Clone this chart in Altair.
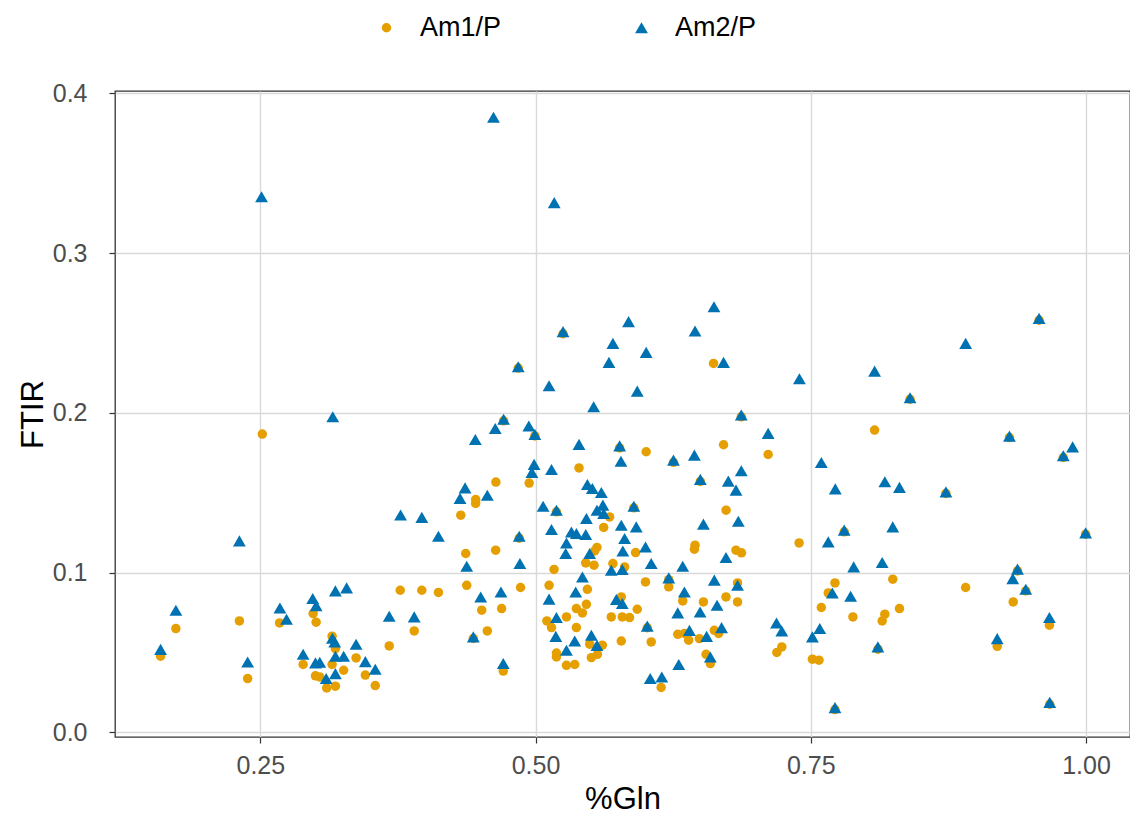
import altair as alt
import pandas as pd

am1_x = [0.2518, 0.525, 0.4843, 0.471, 0.4994, 0.5764, 0.5395, 0.464, 0.4942, 0.4456,
         0.6617, 0.6869, 0.6253, 0.6497, 0.6005, 0.6708, 0.7113, 0.9574, 0.8402, 0.9305,
         0.9794, 0.8728, 0.808, 0.9997, 0.9378, 0.9453, 0.811, 0.9671, 0.8245, 0.8907,
         0.9339, 0.8306, 0.7883, 0.8173, 0.8149, 0.9668, 0.9194, 0.7804, 0.772, 0.7394,
         0.6821, 0.6871, 0.772, 0.7659, 0.6835, 0.6835, 0.7596, 0.7237, 0.7192, 0.7515,
         0.7575, 0.5893, 0.621, 0.6015, 0.6731, 0.6449, 0.6443, 0.5909, 0.5809, 0.5999,
         0.621, 0.5779, 0.6337, 0.6525, 0.673, 0.5924, 0.5788, 0.5854, 0.6292, 0.6352,
         0.6391, 0.6488, 0.6624, 0.6663, 0.5779, 0.6051, 0.6549, 0.6588, 0.6141, 0.4852,
         0.519, 0.5673, 0.5619, 0.5558, 0.5537, 0.5456, 0.5531, 0.5703, 0.5168, 0.4864,
         0.5123, 0.5471, 0.5371, 0.5462, 0.5426, 0.5688, 0.5103, 0.5281, 0.5145, 0.5371,
         0.5492, 0.5607, 0.519, 0.519, 0.5562, 0.5507, 0.5281, 0.5356, 0.4435, 0.4707,
         0.4456, 0.4321, 0.4638, 0.4366, 0.3967, 0.4118, 0.4375, 0.4511, 0.4692, 0.3898,
         0.4562, 0.231, 0.1733, 0.1594, 0.2385, 0.2675, 0.298, 0.3007, 0.3771, 0.3671,
         0.3152, 0.3182, 0.337, 0.2889, 0.3152, 0.3257, 0.3001, 0.304, 0.3454, 0.3544,
         0.3103, 0.3182]
am1_y = [0.1867, 0.2495, 0.228, 0.195, 0.1855, 0.178, 0.1655, 0.1566, 0.156, 0.1457,
         0.2309, 0.1975, 0.169, 0.157, 0.1756, 0.18, 0.1739, 0.258, 0.2085, 0.1845,
         0.172, 0.1495, 0.1892, 0.124, 0.101, 0.0885, 0.052, 0.0175, 0.0958, 0.0906,
         0.0816, 0.0774, 0.0722, 0.0739, 0.0697, 0.067, 0.0538, 0.1255, 0.0142, 0.1185,
         0.114, 0.1123, 0.0935, 0.0872, 0.0935, 0.0816, 0.0781, 0.0534, 0.0499, 0.0457,
         0.0451, 0.1405, 0.0955, 0.0654, 0.139, 0.1171, 0.1146, 0.1125, 0.1035, 0.0941,
         0.091, 0.0847, 0.0822, 0.0816, 0.0847, 0.077, 0.0722, 0.0718, 0.0613, 0.0618,
         0.0576, 0.0586, 0.0638, 0.0618, 0.0571, 0.0565, 0.0488, 0.043, 0.028, 0.1215,
         0.138, 0.1348, 0.1282, 0.1157, 0.1135, 0.106, 0.1046, 0.1056, 0.1019, 0.0906,
         0.092, 0.0895, 0.0774, 0.0801, 0.0747, 0.0722, 0.0697, 0.0722, 0.0655, 0.0655,
         0.0551, 0.0545, 0.0496, 0.0471, 0.0488, 0.0467, 0.0419, 0.0424, 0.0587, 0.0383,
         0.1432, 0.1359, 0.114, 0.1119, 0.0889, 0.0875, 0.092, 0.0764, 0.0774, 0.0634,
         0.0634, 0.0697, 0.0649, 0.0476, 0.0336, 0.0684, 0.0743, 0.0689, 0.0889, 0.054,
         0.0601, 0.0524, 0.0465, 0.0424, 0.0424, 0.0388, 0.0353, 0.0346, 0.0358, 0.0292,
         0.0277, 0.0288]

am2_x = [0.4618, 0.2511, 0.517, 0.3158, 0.525, 0.5845, 0.5703, 0.5667, 0.4843, 0.5123,
         0.5528, 0.471, 0.4634, 0.4939, 0.4994, 0.4453, 0.5395, 0.5764, 0.5776, 0.4987,
         0.4967, 0.5145, 0.436, 0.4562, 0.5471, 0.5516, 0.5598, 0.4314, 0.6621, 0.6449,
         0.6005, 0.6708, 0.7397, 0.5924, 0.6869, 0.7113, 0.6253, 0.6443, 0.7596, 0.6497,
         0.6869, 0.6751, 0.6821, 0.7723, 0.9574, 0.8907, 0.808, 0.8402, 0.9305, 0.9879,
         0.9794, 0.8173, 0.8306, 0.8728, 0.8245, 0.9997, 0.789, 0.8149, 0.9378, 0.9335,
         0.9453, 0.7862, 0.9668, 0.9194, 0.811, 0.9671, 0.6842, 0.7804, 0.7659, 0.6835,
         0.7696, 0.7189, 0.7237, 0.7582, 0.7515, 0.772, 0.5893, 0.5779, 0.5915, 0.5809,
         0.5793, 0.5999, 0.6051, 0.5788, 0.6525, 0.6337, 0.673, 0.621, 0.6624, 0.6352,
         0.5788, 0.6649, 0.6292, 0.6495, 0.6015, 0.6398, 0.669, 0.6554, 0.6588, 0.6301,
         0.6042, 0.6147, 0.5069, 0.519, 0.4852, 0.5145, 0.5462, 0.5558, 0.5612, 0.5619,
         0.5326, 0.5371, 0.5456, 0.5281, 0.5274, 0.5492, 0.4858, 0.5688, 0.5426, 0.5365,
         0.5123, 0.5734, 0.519, 0.5184, 0.5356, 0.5507, 0.5558, 0.5281, 0.3967, 0.4118,
         0.4375, 0.4502, 0.4686, 0.3898, 0.4435, 0.4707, 0.3774, 0.231, 0.1733, 0.1594,
         0.2385, 0.2678, 0.2738, 0.2976, 0.3007, 0.3182, 0.3284, 0.3671, 0.3155, 0.3176,
         0.337, 0.2889, 0.3182, 0.3257, 0.3001, 0.304, 0.3454, 0.3544, 0.3182, 0.3098]
am2_y = [0.3851, 0.3353, 0.3316, 0.1975, 0.2508, 0.2571, 0.2435, 0.2316, 0.2288, 0.2169,
         0.2038, 0.196, 0.1902, 0.1917, 0.1865, 0.1833, 0.1802, 0.1793, 0.1697, 0.1677,
         0.1627, 0.1645, 0.153, 0.1484, 0.1551, 0.1526, 0.1501, 0.1464, 0.2664, 0.2512,
         0.2378, 0.2316, 0.2213, 0.2136, 0.1986, 0.1871, 0.1704, 0.1735, 0.1689, 0.1583,
         0.1637, 0.1572, 0.1516, 0.1524, 0.2591, 0.2435, 0.2261, 0.2094, 0.1854, 0.1787,
         0.1731, 0.1568, 0.1533, 0.1505, 0.1286, 0.1248, 0.1035, 0.1063, 0.1021, 0.0962,
         0.0895, 0.0851, 0.0718, 0.0586, 0.0534, 0.0187, 0.1321, 0.1265, 0.1192, 0.092,
         0.0872, 0.0684, 0.0634, 0.0649, 0.0597, 0.0154, 0.1415, 0.1296, 0.1286, 0.1213,
         0.1135, 0.116, 0.1056, 0.1019, 0.1303, 0.1039, 0.1094, 0.0966, 0.0952, 0.0878,
         0.0806, 0.0795, 0.0747, 0.0753, 0.0664, 0.0638, 0.0655, 0.06, 0.0471, 0.0424,
         0.0336, 0.0346, 0.1415, 0.139, 0.1227, 0.1269, 0.1338, 0.139, 0.1422, 0.137,
         0.1254, 0.1244, 0.1238, 0.1185, 0.1119, 0.1119, 0.1056, 0.1014, 0.0972, 0.0878,
         0.0833, 0.0831, 0.0718, 0.06, 0.0571, 0.0607, 0.0544, 0.0513, 0.1345, 0.1227,
         0.1039, 0.0847, 0.0878, 0.0722, 0.0597, 0.043, 0.136, 0.1198, 0.0764, 0.0519,
         0.044, 0.0778, 0.0707, 0.0837, 0.0793, 0.0885, 0.0904, 0.0726, 0.0588, 0.0565,
         0.0551, 0.0488, 0.0476, 0.0476, 0.0434, 0.0438, 0.0442, 0.0394, 0.0367, 0.0336]

series = ["Am1/P", "Am2/P"]
colors = ["#E69F00", "#0072B2"]
shapes = ["circle", "triangle-up"]

df = pd.concat([
    pd.DataFrame({"gln": am1_x, "ftir": am1_y, "series": series[0]}),
    pd.DataFrame({"gln": am2_x, "ftir": am2_y, "series": series[1]}),
], ignore_index=True)

font = "Liberation Sans"

chart = alt.Chart(df).mark_point(filled=True, opacity=1).encode(
    x=alt.X("gln:Q", title="%Gln",
            scale=alt.Scale(domain=[0.118, 1.04], nice=False, zero=False),
            axis=alt.Axis(values=[0.25, 0.5, 0.75, 1.0], format=".2f")),
    y=alt.Y("ftir:Q", title="FTIR",
            scale=alt.Scale(domain=[-0.003, 0.4015], nice=False, zero=False),
            axis=alt.Axis(values=[0.0, 0.1, 0.2, 0.3, 0.4], format=".1f")),
    color=alt.Color("series:N", scale=alt.Scale(domain=series, range=colors),
                    legend=alt.Legend(title=None, orient="none", direction="horizontal",
                                      legendX=258, legendY=-77, labelFontSize=27,
                                      labelFont=font, labelColor="#000000",
                                      symbolSize=85, columnPadding=126,
                                      labelOffset=20)),
    shape=alt.Shape("series:N", scale=alt.Scale(domain=series, range=shapes)),
    size=alt.Size("series:N", scale=alt.Scale(domain=series, range=[90, 165]), legend=None),
    order=alt.Order("order:Q"),
).transform_calculate(
    order="datum.series == 'Am1/P' ? 0 : 1"
).properties(
    width=1015, height=646,
    autosize=alt.AutoSizeParams(type="none"),
    padding={"left": 115, "top": 91, "right": 0, "bottom": 85},
    background="white",
).configure_view(
    stroke="#333333", strokeWidth=1.3
).configure_axis(
    domain=False,
    grid=True, gridColor="#D9D9D9", gridWidth=1.4,
    tickColor="#333333", tickSize=6, tickWidth=1.2,
    labelFont=font, labelFontSize=25, labelColor="#4D4D4D",
    titleFont=font, titleFontSize=31, titleColor="#000000", titleFontWeight="normal",
).configure_axisX(
    labelPadding=10, titlePadding=6
).configure_axisY(
    labelPadding=22, titlePadding=3
)

chart.save("out.html", embed_options={"renderer": "svg", "actions": False})
